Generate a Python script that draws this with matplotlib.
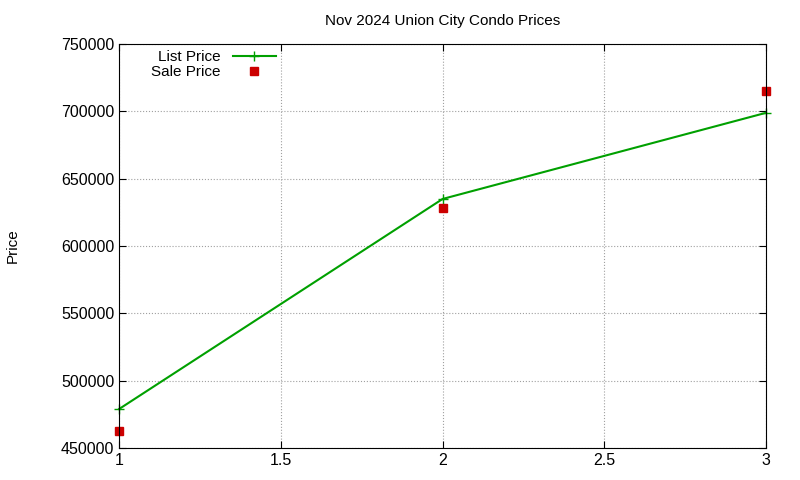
import matplotlib
matplotlib.use('Agg')
import matplotlib.pyplot as plt

plt.rcParams['font.family'] = ['Liberation Sans', 'DejaVu Sans']
plt.rcParams['font.size'] = 11

x = [1, 2, 3]
list_price = [479000, 635000, 699000]
sale_price = [462500, 628000, 715000]

fig = plt.figure(figsize=(8, 4.8), dpi=100)
ax = fig.add_axes([0.149, 0.0667, 0.8085, 0.8413])

ax.plot(x, list_price, color='#00a000', marker='+', markersize=7, lw=1.5,
        label='List Price', clip_on=False)
ax.plot(x, sale_price, color='#cc0000', marker='s', markersize=6, ls='none',
        label='Sale Price', clip_on=False)

ax.set_xlim(1, 3)
ax.set_ylim(450000, 750000)
ax.set_xticks([1, 1.5, 2, 2.5, 3])
ax.set_xticklabels(['1', '1.5', '2', '2.5', '3'])
ax.set_yticks(range(450000, 750001, 50000))
ax.grid(True, color='#a0a0a0', ls=':', lw=0.8)
ax.tick_params(direction='in', top=True, right=True, length=5, labelsize=11.5)
ax.set_ylabel('Price', labelpad=30)
ax.set_title('Nov 2024 Union City Condo Prices', fontsize=11, pad=14)

ax.legend(loc='upper left', markerfirst=False, frameon=False, handlelength=2.8,
          borderaxespad=0.0, labelspacing=0.05, bbox_to_anchor=(0.04, 1.0))

fig.savefig('out.png')
